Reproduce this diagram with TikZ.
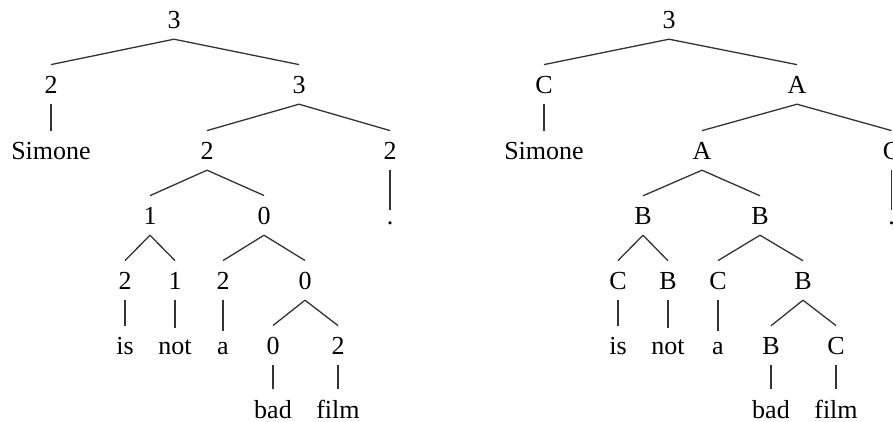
\documentclass[tikz,border=0pt]{standalone}
\usepackage{fontspec}
\setmainfont{Liberation Serif}
\begin{document}
\begin{tikzpicture}[x=1pt,y=-1pt,
  lab/.style={anchor=base,inner xsep=0pt,inner ysep=11pt,text depth=0pt,
    font=\fontsize{26}{30}\selectfont},
  edge/.style={line width=1.3pt,black!80}]
\useasboundingbox (0,0) rectangle (893,421);
\clip (0,0) rectangle (893,421);

% ---- tree with numeric labels ----
\node[lab] (a)     at (174,28)  {3};
\node[lab] (a1)    at (51,93)   {2};
\node[lab] (a2)    at (299,93)  {3};
\node[lab] (aw1)   at (51,159)  {Simone};
\node[lab] (a21)   at (207,159) {2};
\node[lab] (a22)   at (390,159) {2};
\node[lab] (a211)  at (150,224) {1};
\node[lab] (a212)  at (264,224) {0};
\node[lab] (awd)   at (390,224) {.};
\node[lab] (a2111) at (125,289) {2};
\node[lab] (a2112) at (175,289) {1};
\node[lab] (a2121) at (223,289) {2};
\node[lab] (a2122) at (305,289) {0};
\node[lab] (aw2)   at (125,354) {is};
\node[lab] (aw3)   at (175,354) {not};
\node[lab] (aw4)   at (223,354) {a};
\node[lab] (a21221) at (273,354) {0};
\node[lab] (a21222) at (338,354) {2};
\node[lab] (aw5)   at (273,418) {bad};
\node[lab] (aw6)   at (338,418) {film};

\draw[edge] (a.south) -- (a1.north);
\draw[edge] (a.south) -- (a2.north);
\draw[edge] (a1.south) -- (aw1.north);
\draw[edge] (a2.south) -- (a21.north);
\draw[edge] (a2.south) -- (a22.north);
\draw[edge] (a22.south) -- (awd.north);
\draw[edge] (a21.south) -- (a211.north);
\draw[edge] (a21.south) -- (a212.north);
\draw[edge] (a211.south) -- (a2111.north);
\draw[edge] (a211.south) -- (a2112.north);
\draw[edge] (a212.south) -- (a2121.north);
\draw[edge] (a212.south) -- (a2122.north);
\draw[edge] (a2111.south) -- (aw2.north);
\draw[edge] (a2112.south) -- (aw3.north);
\draw[edge] (a2121.south) -- (aw4.north);
\draw[edge] (a2122.south) -- (a21221.north);
\draw[edge] (a2122.south) -- (a21222.north);
\draw[edge] (a21221.south) -- (aw5.north);
\draw[edge] (a21222.south) -- (aw6.north);

% ---- tree with letter labels ----
\node[lab] (b)     at (669,28)  {3};
\node[lab] (b1)    at (544,93)  {C};
\node[lab] (b2)    at (797,93)  {A};
\node[lab] (bw1)   at (544,159) {Simone};
\node[lab] (b21)   at (702,159) {A};
\node[lab] (b22)   at (891.5,159) {C};
\node[lab] (b211)  at (643,224) {B};
\node[lab] (b212)  at (760,224) {B};
\node[lab] (bwd)   at (891.5,224) {.};
\node[lab] (b2111) at (618,289) {C};
\node[lab] (b2112) at (668,289) {B};
\node[lab] (b2121) at (718,289) {C};
\node[lab] (b2122) at (803,289) {B};
\node[lab] (bw2)   at (618,354) {is};
\node[lab] (bw3)   at (668,354) {not};
\node[lab] (bw4)   at (718,354) {a};
\node[lab] (b21221) at (771,354) {B};
\node[lab] (b21222) at (836,354) {C};
\node[lab] (bw5)   at (771,418) {bad};
\node[lab] (bw6)   at (836,418) {film};

\draw[edge] (b.south) -- (b1.north);
\draw[edge] (b.south) -- (b2.north);
\draw[edge] (b1.south) -- (bw1.north);
\draw[edge] (b2.south) -- (b21.north);
\draw[edge] (b2.south) -- (b22.north);
\draw[edge] (b22.south) -- (bwd.north);
\draw[edge] (b21.south) -- (b211.north);
\draw[edge] (b21.south) -- (b212.north);
\draw[edge] (b211.south) -- (b2111.north);
\draw[edge] (b211.south) -- (b2112.north);
\draw[edge] (b212.south) -- (b2121.north);
\draw[edge] (b212.south) -- (b2122.north);
\draw[edge] (b2111.south) -- (bw2.north);
\draw[edge] (b2112.south) -- (bw3.north);
\draw[edge] (b2121.south) -- (bw4.north);
\draw[edge] (b2122.south) -- (b21221.north);
\draw[edge] (b2122.south) -- (b21222.north);
\draw[edge] (b21221.south) -- (bw5.north);
\draw[edge] (b21222.south) -- (bw6.north);
\end{tikzpicture}
\end{document}
